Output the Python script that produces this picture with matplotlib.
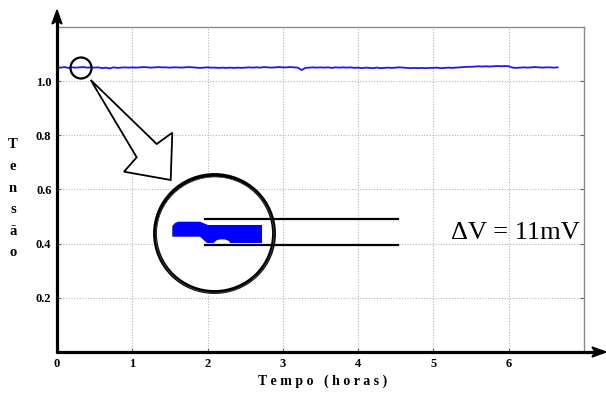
import numpy as np
import matplotlib.pyplot as plt
from matplotlib.patches import Ellipse, Polygon
from matplotlib.lines import Line2D

# ---- data ----
t_step = 0.05
tensao = [
    1.051, 1.050, 1.052, 1.049, 1.051, 1.050, 1.051, 1.052, 1.050, 1.051,
    1.050, 1.051, 1.048, 1.050, 1.047, 1.051, 1.049, 1.050, 1.051, 1.050,
    1.051, 1.050, 1.051, 1.052, 1.051, 1.050, 1.051, 1.052, 1.051, 1.051,
    1.050, 1.051, 1.051, 1.050, 1.051, 1.052, 1.051, 1.050, 1.049, 1.050,
    1.051, 1.050, 1.050, 1.049, 1.050, 1.049, 1.050, 1.049, 1.050, 1.049,
    1.050, 1.051, 1.050, 1.051, 1.050, 1.052, 1.051, 1.050, 1.051, 1.052,
    1.051, 1.051, 1.052, 1.051, 1.050, 1.041, 1.049, 1.050, 1.051, 1.050,
    1.051, 1.050, 1.051, 1.049, 1.051, 1.050, 1.051, 1.050, 1.051, 1.049,
    1.050, 1.048, 1.050, 1.049, 1.048, 1.050, 1.048, 1.049, 1.050, 1.049,
    1.050, 1.051, 1.050, 1.049, 1.048, 1.049, 1.048, 1.049, 1.048, 1.049,
    1.049, 1.050, 1.048, 1.049, 1.050, 1.049, 1.050, 1.051, 1.052, 1.053,
    1.053, 1.054, 1.055, 1.054, 1.055, 1.054, 1.055, 1.056, 1.055, 1.056,
    1.055, 1.050, 1.049, 1.050, 1.051, 1.050, 1.051, 1.052, 1.051, 1.050,
    1.051, 1.051, 1.050, 1.051,
]
tempo = np.arange(len(tensao)) * t_step

x_ticks = [0, 1, 2, 3, 4, 5, 6]
x_labels = ["0", "1", "2", "3", "4", "5", "6"]
y_ticks = [0.2, 0.4, 0.6, 0.8, 1.0]
y_labels = ["0.2", "0.4", "0.6", "0.8", "1.0"]
ylabel_letters = ["T", "e", "n", "s", "ã", "o"]
xlabel = "T e m p o   ( h o r a s )"
delta_text = "ΔV = 11mV"

SERIF = "Liberation Serif"
W, H = 606, 396

fig = plt.figure(figsize=(W / 100, H / 100), dpi=100)
ax = fig.add_axes([57 / W, 1 - 352 / H, (584 - 57) / W, (352 - 27) / H])


def P(x, y):
    return (x / W, 1 - y / H)


ax.plot(tempo, tensao, color="#1a1aee", lw=1.3, zorder=3)
ax.set_xlim(0, 7)
ax.set_ylim(0, 1.2)
ax.set_xticks(x_ticks)
ax.set_xticklabels(x_labels, fontfamily=SERIF, fontweight="bold", fontsize=9)
ax.set_yticks(y_ticks)
ax.set_yticklabels(y_labels, fontfamily=SERIF, fontweight="bold", fontsize=9)
ax.tick_params(direction="in", length=3, color="#666666", pad=4)
ax.tick_params(axis="y", right=True)
ax.grid(True, ls=(0, (1, 1.5)), color="#b5b5b5", lw=0.8)
for s in ["left", "bottom"]:
    ax.spines[s].set_visible(False)
for s in ["top", "right"]:
    ax.spines[s].set_color("#8a8a8a")
    ax.spines[s].set_linewidth(1.0)

tf = fig.transFigure
# axes arrows
fig.add_artist(Line2D([P(57, 353)[0], P(57, 20)[0]], [P(57, 353)[1], P(57, 20)[1]],
                      color="black", lw=2.3, transform=tf, solid_capstyle="butt"))
fig.add_artist(Polygon([P(57, 10), P(52, 24), P(57, 21), P(62, 24)], closed=True,
                       fc="black", ec="black", lw=1, transform=tf))
fig.add_artist(Line2D([P(56, 352)[0], P(596, 352)[0]], [P(56, 352)[1], P(596, 352)[1]],
                      color="black", lw=2.3, transform=tf, solid_capstyle="butt"))
fig.add_artist(Polygon([P(606, 352), P(592, 347), P(595, 352), P(592, 357)], closed=True,
                       fc="black", ec="black", lw=1, transform=tf))

# small circle
fig.add_artist(Ellipse(P(81, 68), 21 / W, 21 / H, fill=False, ec="black", lw=1.6, transform=tf, zorder=5))
# outlined arrow
fig.add_artist(Polygon([P(90.7, 80), P(156.7, 144), P(172.3, 132.7), P(170.7, 180),
                        P(124, 171.7), P(136.7, 157.3)], closed=True,
                       fc="white", ec="black", lw=1.3, transform=tf, zorder=5))
# big circle
fig.add_artist(Ellipse(P(214.5, 233.5), 119 / W, 117 / H, fc="white", ec="black", lw=2.8, transform=tf, zorder=5))
fig.add_artist(Ellipse(P(215, 235), 118 / W, 116 / H, fill=False, ec="#444444", lw=0.6, transform=tf, zorder=5))
# magnified blue trace
blob = [(172.3, 226), (175, 223), (178, 221.7), (200, 221.7), (208, 225), (262, 225),
        (262, 243), (230, 243), (229, 241), (225, 239.5), (221.5, 239.3), (217, 240),
        (213.5, 243), (207, 243), (200, 236.7), (172.3, 236.7)]
fig.add_artist(Polygon([P(x, y) for x, y in blob], closed=True, fc="#0000ff", ec="none",
                       transform=tf, zorder=6))
for yy in (218.5, 244.5):
    fig.add_artist(Line2D([P(205, yy)[0], P(398, yy)[0]], [P(205, yy)[1], P(398, yy)[1]],
                          color="black", lw=1.6, transform=tf, zorder=7))

fig.text(*P(451, 233), delta_text, fontfamily=SERIF, fontsize=19, ha="left", va="center",
         color="black")

# y label stacked letters
for i, ch in enumerate(ylabel_letters):
    fig.text(*P(13, 145 + i * 21.6), ch, fontfamily=SERIF, fontweight="bold", fontsize=10.5,
             ha="center", va="center")
fig.text(*P(323, 381), xlabel, fontfamily=SERIF, fontweight="bold", fontsize=10,
         ha="center", va="center")

fig.savefig("out.png", dpi=100)
